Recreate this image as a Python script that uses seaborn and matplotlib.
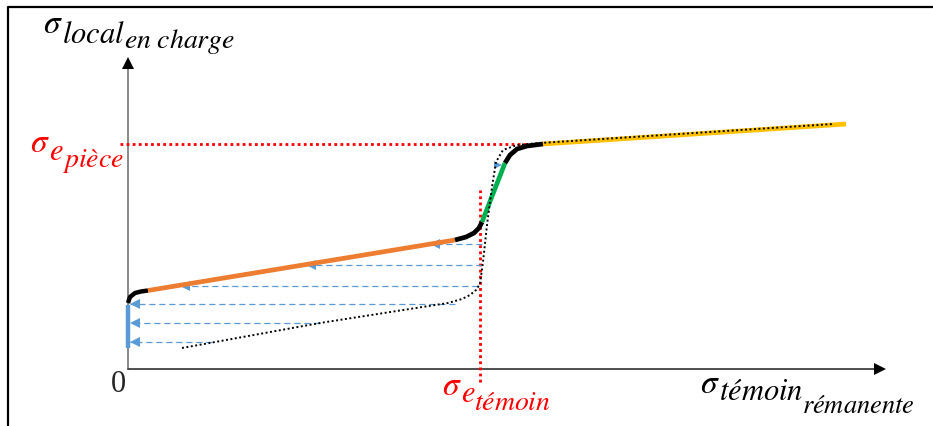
import numpy as np
import pandas as pd
import matplotlib
matplotlib.use("Agg")
import matplotlib.pyplot as plt
import seaborn as sns

# chart coordinates: origin at the axes crossing, units ~ pixels
# main loading path, split by colour
start_x = [0, 2, 7, 13, 20]
start_y = [66, 72, 76, 77.5, 78.5]
orange_x = [20, 327]
orange_y = [78.5, 129]
knee_x = [327, 338, 346, 351, 354]
knee_y = [129, 132, 136, 141, 147]
green_x = [354, 377]
green_y = [147, 206]
top_x = [377, 382, 389, 399, 415]
top_y = [206, 214, 220, 223, 225]
yellow_x = [415, 718]
yellow_y = [225, 245]
blue_x = [0, 0]
blue_y = [21, 64]

# dotted reference curve
ref_x = [54, 192, 320, 334, 342, 348, 352, 355, 359, 364, 368, 375, 389, 412, 705]
ref_y = [21, 46, 66, 70, 74, 79, 85, 107, 144, 182, 207, 219, 224, 226, 245]

# dashed blue arrows (level, start, tip)
arrow_y = [125, 104, 83, 65, 46, 27]
arrow_x0 = [354, 354, 350, 327, 192, 84]
arrow_x1 = [302, 178, 52, 2, 2, 2]

# red limits
sig_piece = 225
sig_temoin = 352

colors = {"orange": "#ED7D31", "green": "#00B050", "yellow": "#FFC000",
          "blue": "#5B9BD5", "red": "#FF0000"}

sns.set_theme(style="white")
plt.rcParams["mathtext.fontset"] = "stix"

fig = plt.figure(figsize=(9.33, 4.26), dpi=100)
ax = fig.add_axes([0, 0, 1, 1])
ax.set_xlim(-128, 805)
ax.set_ylim(-57, 369)
ax.set_axis_off()

# frame (left and top only)
ax.plot([-120, -120, 805], [-57, 362, 362], color="black", lw=1.6, solid_capstyle="butt")

# axes with arrows
ax.plot([0, 0], [0, 306], color="#7f7f7f", lw=1.3)
ax.plot([0], [306], marker="^", color="black", ms=8, mew=0)
ax.plot([0, 752], [0, 0], color="#404040", lw=1.3)
ax.plot([752], [0], marker=">", color="black", ms=8, mew=0)

# red dotted limits
ax.plot([-8, 415], [sig_piece, sig_piece], color=colors["red"], lw=2, ls=(0, (1, 1.2)))
ax.plot([sig_temoin, sig_temoin], [-13, 179], color=colors["red"], lw=2, ls=(0, (1, 1.2)))

# dashed unloading arrows
for y, x0, x1 in zip(arrow_y, arrow_x0, arrow_x1):
    ax.plot([x0, x1], [y, y], color=colors["blue"], lw=0.9, ls=(0, (5, 3)))
    ax.plot([x1 + 5], [y], marker="<", color=colors["blue"], ms=7, mew=0)
ax.plot([370], [204], marker=">", color=colors["blue"], ms=6, mew=0)


def seg(x, y, color, lw):
    df = pd.DataFrame({"x": x, "y": y})
    sns.lineplot(data=df, x="x", y="y", sort=False, estimator=None, color=color,
                 lw=lw, ax=ax, solid_capstyle="butt")


seg(blue_x, blue_y, colors["blue"], 3.2)
seg(start_x, start_y, "black", 3.2)
seg(orange_x, orange_y, colors["orange"], 3.4)
seg(knee_x, knee_y, "black", 3.4)
seg(green_x, green_y, colors["green"], 3.4)
seg(top_x, top_y, "black", 3.4)
seg(yellow_x, yellow_y, colors["yellow"], 3.4)

ref = pd.DataFrame({"x": ref_x, "y": ref_y})
sns.lineplot(data=ref, x="x", y="y", sort=False, estimator=None, color="black",
             lw=1.4, ls=(0, (1, 1.3)), ax=ax)
ax.set_xlim(-128, 805)
ax.set_ylim(-57, 369)

# labels: pieces chained left to right, each with its own baseline drop
renderer = fig.canvas.get_renderer()


def chain(x, y, parts, color="black"):
    for s, dy, size in parts:
        t = ax.text(x, y - dy, s, fontsize=size, ha="left", va="baseline", color=color)
        bb = t.get_window_extent(renderer=renderer)
        x = ax.transData.inverted().transform((bb.x1, bb.y0))[0] - 1


chain(-85, 336, [(r"$\sigma$", 0, 24), (r"$local$", 10, 22), (r"$en\ charge$", 15, 20)])
chain(-98, 217, [(r"$\sigma$", 0, 24), (r"$e$", 8, 22), (r"$pièce$", 15, 20)],
      color=colors["red"])
chain(314, -26, [(r"$\sigma$", 0, 24), (r"$e$", 7, 22), (r"$témoin$", 15, 20)],
      color=colors["red"])
chain(572, -24, [(r"$\sigma$", 0, 24), (r"$témoin$", 7, 22), (r"$rémanente$", 20, 19)])
ax.text(-10, -16, "0", fontsize=22, family="Liberation Serif", ha="center", va="center")

fig.savefig("out.png", dpi=100)
